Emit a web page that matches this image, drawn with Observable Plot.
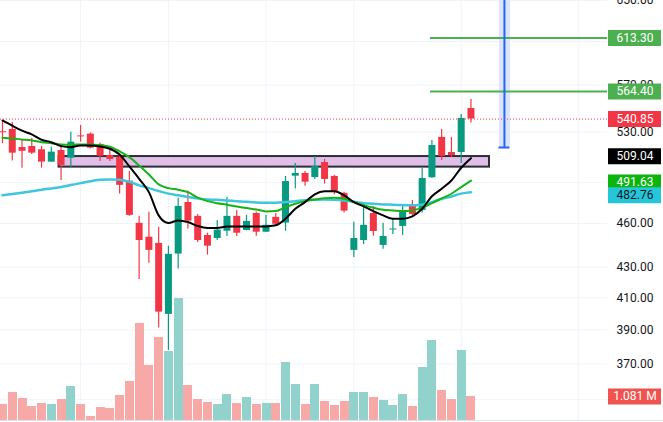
<!DOCTYPE html>
<html><head><meta charset="utf-8">
<script src="https://cdn.jsdelivr.net/npm/d3@7"></script>
<script src="https://cdn.jsdelivr.net/npm/@observablehq/plot@0.6"></script>
<style>
html,body{margin:0;padding:0;background:#fff;}
#chart{position:relative;width:663px;height:422px;overflow:hidden;background:#fff;}
#chart svg{position:absolute;left:0;top:0;background:transparent;}
</style></head><body><div id="chart"></div>
<script>
// ---- data ----
const opens  = [530.3,532.2,517.5,518.3,515.7,505.9,515.1,509.0,526.9,528.4,520.0,511.1,509.8,491.2,460.1,450.3,446.0,399.5,438.7,475.2,465.1,451.5,449.4,454.5,465.1,455.0,467.2,453.8,464.4,460.3,495.0,497.1,494.0,505.6,494.8,482.0,441.2,448.0,467.2,444.6,455.4,457.9,472.3,469.4,493.8,525.7,513.5,513.5,549.8];
const highs  = [539.7,538.0,523.2,524.8,518.3,517.8,517.8,529.8,535.5,529.2,521.0,515.7,511.1,498.6,465.1,468.0,457.4,444.1,478.3,483.7,466.5,453.1,462.2,479.0,469.4,465.8,468.2,465.8,467.2,494.8,504.9,498.6,510.4,508.0,495.5,482.9,460.8,474.7,472.3,460.1,463.6,473.0,476.7,500.9,523.2,532.2,525.7,544.7,557.5];
const lows   = [520.5,506.7,501.2,511.9,501.2,505.9,491.7,501.7,521.8,516.3,506.4,506.4,481.5,465.1,421.8,432.4,391.1,377.8,428.6,456.0,446.6,438.0,448.0,450.8,450.8,454.8,451.0,453.6,458.7,454.5,485.2,487.4,492.5,489.0,481.0,467.5,436.4,445.3,451.0,441.9,452.2,451.5,465.8,467.5,493.2,507.2,509.6,504.9,537.5];
const closes = [529.5,513.0,514.5,513.0,505.9,513.8,503.3,521.8,526.1,517.0,510.6,508.0,488.0,465.8,448.0,441.2,400.9,438.5,472.3,461.7,448.0,444.1,455.3,465.1,453.1,461.5,453.8,458.7,459.4,490.9,497.1,490.4,502.5,492.5,482.9,468.9,449.4,458.7,454.3,450.8,456.1,468.9,466.5,493.2,519.1,510.4,511.1,541.4,540.85];
const volumes = [0.72,1.26,0.99,0.63,0.77,0.72,0.95,1.53,0.72,0.18,0.59,0.54,1.13,1.76,4.37,2.48,3.74,3.11,5.49,1.58,0.95,0.81,0.72,1.17,0.77,1.04,0.72,0.77,0.77,2.61,1.62,0.72,1.62,0.86,0.68,0.86,1.26,1.26,1.04,0.90,0.68,1.17,0.63,2.39,3.60,1.35,0.95,3.15,1.081];
const maBlack = [539.7,535.3,531.2,528.1,523.8,521.8,518.6,517.8,519.1,519.1,518.3,516.5,511.9,502.5,493.0,482.9,465.8,460.3,462.2,461.0,458.2,456.8,456.8,457.9,457.9,457.9,457.9,457.9,458.7,463.4,470.6,475.5,481.3,483.5,483.5,480.5,475.5,472.3,468.9,465.8,463.4,463.4,465.1,470.6,479.8,485.5,491.7,501.5,509.04];
const maGreen = [525.4,524.8,524.0,523.2,521.8,521.0,520.0,519.7,520.0,520.0,519.4,518.1,514.5,509.8,503.3,496.3,488.7,485.9,484.7,482.9,478.8,476.2,474.7,473.6,472.3,471.1,470.1,468.7,468.9,471.8,474.3,476.2,477.4,478.4,478.7,478.0,475.5,473.3,471.4,469.9,469.4,468.9,469.4,471.4,474.7,478.2,481.7,486.7,491.63];
const maCyan  = [480.5,481.5,482.5,483.5,484.7,485.7,486.7,488.2,489.7,491.2,492.2,492.5,492.2,490.7,488.0,485.9,483.7,481.8,480.5,479.3,478.2,477.4,477.2,476.7,476.2,475.7,475.2,475.0,475.0,475.5,476.2,476.9,477.2,477.4,477.2,476.7,475.7,474.7,474.3,473.8,473.6,473.3,473.1,473.6,475.5,478.0,479.7,481.8,482.76];
const gridPrices = [650,610,570,530,490,460,430,410,390,370,350];
const tickLabels = [650,570,530,460,430,410,390,370];
const gridBars = [8,17,27,36,47,59];
const zone = {x1: 5.8, x2: 49.9, low: 502.0, high: 510.3};
const targetPrices = [613.30, 564.40];
const targetStart = 43.85;
const tool = {x: 51.43, from: 517.5, to: 700};
const lastPrice = 540.85;
const labelValues = [613.30, 564.40, 540.85, 509.04, 491.63, 482.76];
const volumeLabel = 1.081;

// ---- styles ----
const labelStyles = [
  {bg:"#4caf50", fg:"#fff", dy:0},
  {bg:"#4caf50", fg:"#fff", dy:0},
  {bg:"#f23645", fg:"#fff", dy:0},
  {bg:"#000000", fg:"#fff", dy:-2},
  {bg:"#0cb40c", fg:"#fff", dy:2},
  {bg:"#26c6da", fg:"#131722", dy:3}
];
const UP = "#089981", DOWN = "#f23645";
const VUP = "#92d2cc", VDOWN = "#f7a9a7";
const GRID = "#f0f3fa";

const candles = opens.map((o, i) => ({i, o, h: highs[i], l: lows[i], c: closes[i], v: volumes[i]}));
const up = candles.filter(d => d.c >= d.o), down = candles.filter(d => d.c < d.o);
const ma = (arr) => arr.map((v, i) => ({i, v}));

const W = 663, H = 422;
const xDomain = [-0.205, 61.99];
const common = {
  width: W, height: H, marginLeft: 0, marginRight: 56, marginTop: 0, marginBottom: 2,
  x: {type: "linear", domain: xDomain, axis: null},
  style: {fontFamily: "Roboto, 'Liberation Sans', sans-serif", fontSize: "12px", background: "transparent"}
};
const yPrice = {type: "log", domain: [338.9, 650], axis: null};

const gridLayer = Plot.plot({
  ...common, y: yPrice,
  marks: [
    Plot.ruleY(gridPrices, {stroke: GRID}),
    Plot.ruleX(gridBars, {stroke: GRID})
  ]
});

const volLayer = Plot.plot({
  ...common,
  y: {type: "linear", domain: [0, 18.92], axis: null},
  marks: [
    Plot.ruleX(down, {x: "i", y1: 0, y2: "v", stroke: VDOWN, strokeWidth: 9, shapeRendering: "crispEdges"}),
    Plot.ruleX(up, {x: "i", y1: 0, y2: "v", stroke: VUP, strokeWidth: 9, shapeRendering: "crispEdges"}),
    Plot.ruleY([0], {stroke: "#e0e3eb", insetRight: -56}),
    Plot.ruleY([volumeLabel], {stroke: "#ef5350", strokeWidth: 16, insetLeft: 608, insetRight: -54}),
    Plot.text([volumeLabel], {y: d => d, text: d => d.toFixed(3) + " M", frameAnchor: "right", dx: 27.5, fill: "#fff", textAnchor: "middle", fontSize: 12})
  ]
});

const labelMarks = [];
labelValues.forEach((v, k) => {
  const s = labelStyles[k];
  labelMarks.push(Plot.ruleY([v], {stroke: s.bg, strokeWidth: 16, insetLeft: 608, insetRight: -54, dy: s.dy}));
  labelMarks.push(Plot.text([v], {y: d => d, text: d => d.toFixed(2), frameAnchor: "right", dx: 27.5, dy: s.dy, fill: s.fg, textAnchor: "middle", fontSize: 12}));
});

const priceLayer = Plot.plot({
  ...common, y: yPrice,
  marks: [
    Plot.rect([zone], {x1: "x1", x2: "x2", y1: "low", y2: "high", fill: "#e1bee7", stroke: "#2a2e39", strokeWidth: 2}),
    Plot.ruleX([tool], {x: "x", y1: "from", y2: "to", stroke: "#dce5fb", strokeWidth: 11}),
    Plot.ruleY(targetPrices, {y: d => d, x1: () => targetStart, x2: () => xDomain[1], stroke: "#4caf50", strokeWidth: 2}),
    Plot.ruleX([tool], {x: "x", y1: "from", y2: "to", stroke: "#2962ff", strokeWidth: 2}),
    Plot.ruleY([tool], {y: "from", x1: d => d.x - 0.56, x2: d => d.x + 0.56, stroke: "#2962ff", strokeWidth: 2}),
    Plot.ruleX(down, {x: "i", y1: "l", y2: "h", stroke: DOWN, strokeWidth: 1.2}),
    Plot.ruleX(up, {x: "i", y1: "l", y2: "h", stroke: UP, strokeWidth: 1.2}),
    Plot.ruleX(down, {x: "i", y1: "o", y2: "c", stroke: DOWN, strokeWidth: 7}),
    Plot.ruleX(up, {x: "i", y1: "o", y2: "c", stroke: UP, strokeWidth: 7}),
    Plot.line(ma(maCyan), {x: "i", y: "v", stroke: "#3ec6dd", strokeWidth: 2.5, curve: "monotone-x"}),
    Plot.line(ma(maGreen), {x: "i", y: "v", stroke: "#16b216", strokeWidth: 2, curve: "monotone-x"}),
    Plot.line(ma(maBlack), {x: "i", y: "v", stroke: "#000", strokeWidth: 2, curve: "monotone-x"}),
    Plot.ruleY([lastPrice], {stroke: "#f23645", strokeDasharray: "1 2"}),
    Plot.text(tickLabels, {y: d => d, text: d => d.toFixed(2), frameAnchor: "right", dx: 27.5, fill: "#131722", textAnchor: "middle", fontSize: 12}),
    ...labelMarks
  ]
});

const el = document.getElementById("chart");
el.append(gridLayer, volLayer, priceLayer);
</script></body></html>
